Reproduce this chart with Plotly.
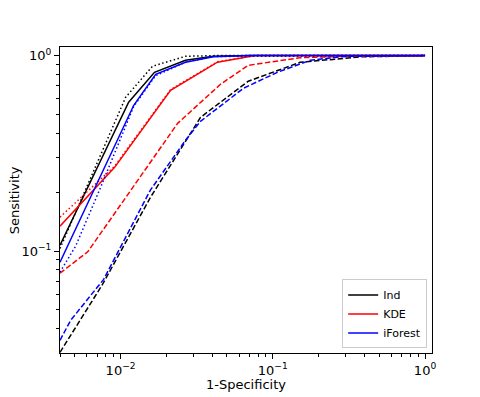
import plotly.graph_objects as go
import math

# --- ROC points (1-Specificity, Sensitivity) ---
ind_x = [0.004, 0.0113, 0.0167, 0.0267, 0.0407, 0.071, 1.0]
ind_y = [0.107, 0.577, 0.821, 0.946, 0.992, 1.0, 1.0]
ind_dot_x = [0.004, 0.0108, 0.0162, 0.0267, 0.042, 1.0]
ind_dot_y = [0.103, 0.612, 0.882, 0.992, 1.0, 1.0]
ind_dash_x = [0.004, 0.00762, 0.0157, 0.0335, 0.069, 0.151, 0.375, 1.0]
ind_dash_y = [0.0303, 0.0676, 0.188, 0.483, 0.739, 0.924, 0.985, 1.0]

kde_x = [0.004, 0.00914, 0.0213, 0.0433, 0.0767, 1.0]
kde_y = [0.134, 0.268, 0.664, 0.925, 1.0, 1.0]
kde_dot_x = [0.004, 0.00617, 0.00914, 0.0213, 0.0433, 0.0767, 1.0]
kde_dot_y = [0.149, 0.205, 0.272, 0.67, 0.93, 1.0, 1.0]
kde_dash_x = [0.004, 0.00507, 0.00608, 0.0237, 0.0453, 0.069, 0.151, 0.277, 1.0]
kde_dash_y = [0.077, 0.089, 0.099, 0.45, 0.713, 0.892, 0.975, 0.99, 1.0]

if_x = [0.004, 0.0122, 0.017, 0.0267, 0.0407, 0.071, 1.0]
if_y = [0.0876, 0.557, 0.802, 0.925, 0.986, 1.0, 1.0]
if_dot_x = [0.004, 0.00507, 0.0074, 0.0122, 0.017, 0.0267, 0.0407, 1.0]
if_dot_y = [0.078, 0.106, 0.212, 0.55, 0.79, 0.925, 0.99, 1.0]
if_dash_x = [0.004, 0.0047, 0.00774, 0.0157, 0.0267, 0.0335, 0.0641, 0.107, 0.176, 0.29, 1.0]
if_dash_y = [0.0349, 0.0442, 0.0716, 0.205, 0.369, 0.461, 0.68, 0.821, 0.946, 0.99, 1.0]

x_major = [0.01, 0.1, 1]
x_major_text = ["10<sup>\u22122</sup>", "10<sup>\u22121</sup>", "10<sup>0</sup>"]
y_major = [0.1, 1]
y_major_text = ["10<sup>\u22121</sup>", "10<sup>0</sup>"]
x_minor = [m * 10 ** e for e in (-3, -2, -1) for m in range(2, 10) if 0.004 <= m * 10 ** e <= 1.1]
y_minor = [m * 10 ** e for e in (-2, -1) for m in range(2, 10) if 0.03 <= m * 10 ** e <= 1.1]

DASH = "5.5px,2.4px"
DOT = "1.5px,2.5px"

series = [
    ("Ind", "black", ind_x, ind_y, ind_dot_x, ind_dot_y, ind_dash_x, ind_dash_y),
    ("KDE", "red", kde_x, kde_y, kde_dot_x, kde_dot_y, kde_dash_x, kde_dash_y),
    ("iForest", "blue", if_x, if_y, if_dot_x, if_dot_y, if_dash_x, if_dash_y),
]

fig = go.Figure()

for name, color, sx, sy, dx, dy, ex, ey in series:
    fig.add_trace(go.Scatter(x=sx, y=sy, mode="lines", name=name, legendgroup=name,
                             line=dict(color=color, width=1.5)))
    fig.add_trace(go.Scatter(x=dx, y=dy, mode="lines", showlegend=False, legendgroup=name,
                             line=dict(color=color, width=1.5, dash=DOT)))
    fig.add_trace(go.Scatter(x=ex, y=ey, mode="lines", showlegend=False, legendgroup=name,
                             line=dict(color=color, width=1.5, dash=DASH)))

axis_common = dict(
    type="log",
    automargin=False,
    showgrid=False,
    zeroline=False,
    showline=True,
    linecolor="black",
    linewidth=1,
    mirror=True,
    ticks="outside",
    ticklen=5,
    tickcolor="black",
    tickmode="array",
    tickfont=dict(family="DejaVu Sans", size=13, color="black"),
)

# the page body keeps its default 8px margin, so the figure is 8px smaller
fig.update_layout(
    width=472,
    height=389,
    paper_bgcolor="white",
    plot_bgcolor="white",
    margin=dict(l=52, r=48, t=39, b=44),
    font=dict(family="DejaVu Sans", size=13, color="black"),
    xaxis=dict(
        axis_common,
        range=[math.log10(0.004), math.log10(1.111)],
        tickvals=x_major,
        ticktext=x_major_text,
        minor=dict(tickmode="array", tickvals=x_minor, ticks="outside", ticklen=3,
                   tickcolor="black", showgrid=False),
    ),
    yaxis=dict(
        axis_common,
        range=[-1.522, 0.044],
        tickvals=y_major,
        ticktext=y_major_text,
        minor=dict(tickmode="array", tickvals=y_minor, ticks="outside", ticklen=3,
                   tickcolor="black", showgrid=False),
    ),
    legend=dict(
        x=0.987, y=0.015, xanchor="right", yanchor="bottom",
        bgcolor="white", bordercolor="#cccccc", borderwidth=1,
        font=dict(family="DejaVu Sans", size=11, color="black"),
        tracegroupgap=0,
    ),
    showlegend=True,
    annotations=[
        # axis titles placed by hand, the way matplotlib puts them
        dict(xref="paper", yref="paper", x=0.5, y=-0.103, xanchor="center", yanchor="middle",
             text="1-Specificity", showarrow=False, font=dict(size=13)),
        dict(xref="paper", yref="paper", x=-0.123, y=0.5, xanchor="center", yanchor="middle",
             text="Sensitivity", textangle=-90, showarrow=False, font=dict(size=13)),
    ],
)

fig.write_html("out.html")
